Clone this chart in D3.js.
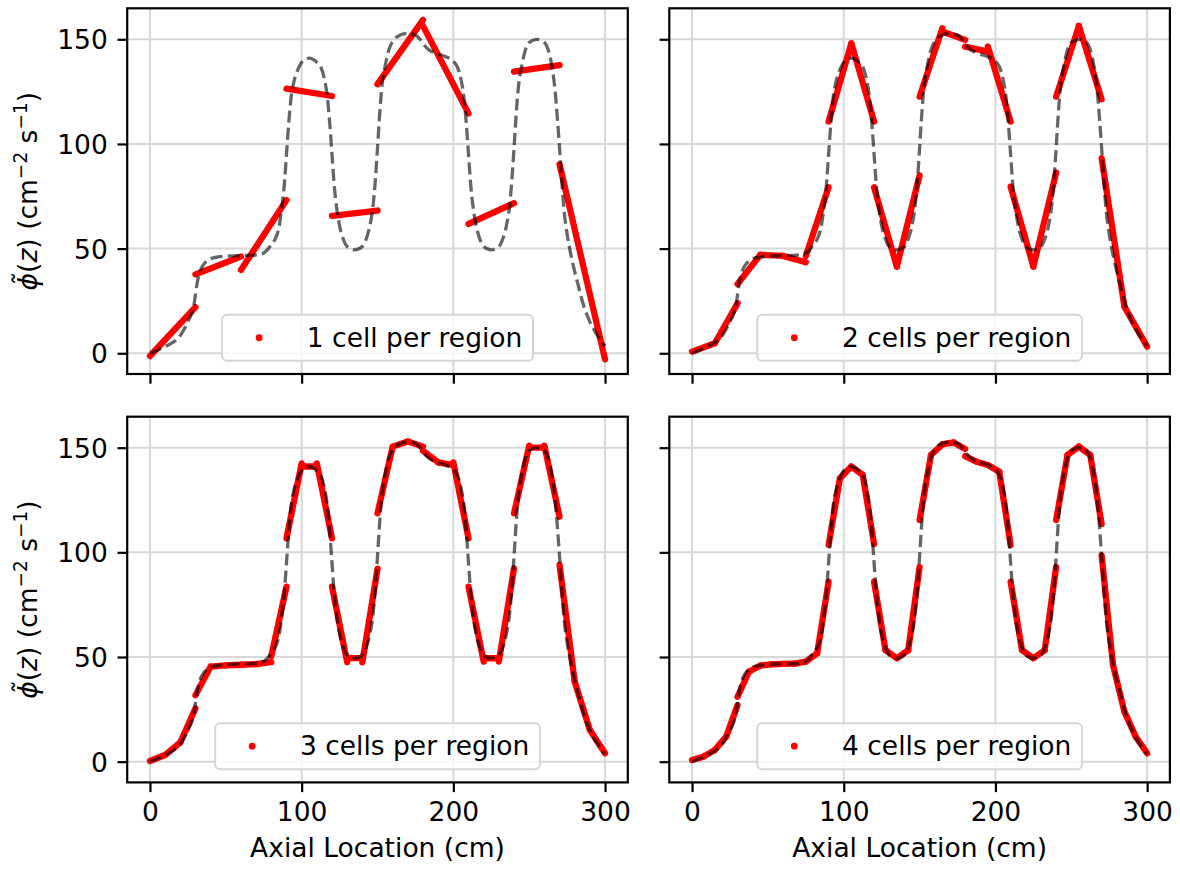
<!DOCTYPE html>
<html><head><meta charset="utf-8">
<script src="https://cdn.jsdelivr.net/npm/d3@7/dist/d3.min.js"></script>
<style>
body{margin:0;background:#fff}
svg{display:block}
text{font-family:"DejaVu Sans",sans-serif;fill:#000}
</style>
</head><body>
<svg id="chart" width="1180" height="869"></svg>
<script>
// ---------------- data ----------------
const xTicks = [0, 100, 200, 300];
const yTicks = [0, 50, 100, 150];
const legendLabels = ["1 cell per region", "2 cells per region", "3 cells per region", "4 cells per region"];
const cellsPerRegion = [1, 2, 3, 4];
const regionEdges = [0, 30, 60, 90, 120, 150, 180, 210, 240, 270, 300];

// reference (dashed) profile
const refX = [0, 5, 10, 15, 20, 22.5, 25, 27.5, 29, 30, 31, 32.5, 35, 37.5, 40, 45, 52.5, 60, 67.5, 72, 75, 77.5, 80, 82.5, 85, 87, 88.5, 90, 91.5, 93, 95, 97.5, 100, 105, 110, 112.5, 115, 117, 118.5, 120, 121.5, 123, 125, 127.5, 130, 135, 140, 142.5, 145, 147, 148.5, 150, 151.5, 153, 155, 157.5, 160, 165, 170, 175, 178, 180, 183, 187.5, 195, 200, 202.5, 205, 207, 208.5, 210, 211.5, 213, 215, 217.5, 220, 225, 230, 232.5, 235, 237, 238.5, 240, 241.5, 243, 245, 247.5, 250, 255, 260, 262.5, 265, 267, 268.5, 270, 271.5, 273, 275, 277.5, 280, 282.5, 285, 287.5, 290, 292.5, 295, 300];
const refY = [0, 1.5, 3.2, 5.2, 8.5, 11.5, 15, 19, 23, 28, 33, 38, 42, 44, 45.2, 46, 46.5, 46.7, 46.8, 47.2, 47.9, 49.5, 52, 54.5, 60, 70, 80, 95, 110, 122, 130, 135.5, 139, 141, 139, 137, 131, 122, 110, 95, 80, 70, 61, 54.5, 51, 49.4, 51, 54.5, 61, 70, 82, 98, 115, 128, 137, 145, 149, 152, 152.8, 152, 150, 148, 145.5, 143.5, 141.7, 139.5, 137, 131, 122, 110, 95, 80, 70, 61, 54.5, 51, 49.4, 51, 54.5, 61, 70, 82, 98, 115, 128, 137, 145, 148.5, 150, 148.5, 145, 137, 126, 113, 98, 82, 68, 57, 47, 39, 32, 25, 19.5, 15, 11.5, 8.5, 3.5];

// cell-wise linear solutions: value at left edge / right edge of each cell
const p1Start = [-1.3, 37.7, 39.8, 126.4, 65.6, 128.6, 156.4, 61.8, 134.5, 90.3];
const p1End   = [22.0, 46.2, 73.2, 122.9, 68.2, 159.3, 114.6, 71.7, 137.7, -2.9];

const p2Start = [0.8, 4.8, 33.1, 47.0, 46.5, 46.5, 110.7, 148.0, 79.3, 41.4, 122.6, 153.7, 146.5, 146.5, 79.6, 41.4, 122.6, 156.4, 93.2, 22.3];
const p2End   = [4.8, 23.9, 47.0, 46.5, 43.5, 79.3, 148.0, 110.7, 41.4, 85.0, 155.3, 149.7, 144.1, 110.7, 41.4, 86.3, 156.4, 121.3, 22.3, 3.2];

const p3Start = [0.3, 3.2, 9.2, 31.8, 45.4, 46.0, 46.3, 46.6, 50.5, 106.7, 141.0, 142.5, 83.6, 49.5, 47.5, 118.6, 150.5, 152.9, 148.5, 143.0, 143.0, 83.6, 49.4, 47.8, 118.6, 150.0, 151.0, 94.0, 38.2, 15.1];
const p3End   = [3.2, 9.2, 25.5, 45.4, 46.0, 46.3, 46.6, 47.5, 83.6, 142.5, 141.0, 106.7, 47.5, 49.5, 92.2, 150.5, 152.9, 150.5, 143.0, 141.7, 106.7, 47.8, 49.4, 92.4, 151.0, 150.0, 117.0, 38.2, 15.1, 4.0];

const p4Start = [0.8, 2.4, 5.6, 12.0, 31.0, 43.0, 45.9, 46.5, 46.7, 46.8, 47.8, 51.8, 103.5, 135.4, 141.0, 137.0, 86.0, 53.3, 49.4, 53.3, 115.4, 146.5, 151.6, 152.5, 146.0, 143.3, 141.7, 138.5, 86.0, 53.3, 49.4, 53.3, 115.4, 146.5, 150.5, 146.5, 98.5, 46.2, 23.9, 11.9];
const p4End   = [2.4, 5.6, 12.0, 27.0, 43.0, 45.9, 46.5, 46.7, 46.8, 47.8, 51.8, 86.0, 135.4, 141.0, 137.0, 104.0, 53.3, 49.4, 53.3, 93.0, 146.5, 151.6, 152.5, 149.4, 143.3, 141.7, 138.5, 103.5, 53.3, 49.4, 53.3, 93.0, 146.5, 150.5, 146.5, 113.5, 46.2, 23.9, 11.9, 4.0];

const panelStart = [p1Start, p2Start, p3Start, p4Start];
const panelEnd = [p1End, p2End, p3End, p4End];

// ---------------- layout ----------------
const FS = 26.5;
const W = 500.6, H = 365.7;
const lefts = [127.2, 669.3], tops = [8.3, 416.7];
const TICK = 9.7, PAD = 9.7;

const svg = d3.select("#chart");
const x = d3.scaleLinear().domain([-15, 315]).range([0, W]);
const y = d3.scaleLinear().domain([-9.9, 164.8]).range([H, 0]);

const refData = refX.map((v, i) => [v, refY[i]]);
const refLine = d3.line().x(d => x(d[0])).y(d => y(d[1])).curve(d3.curveMonotoneX);

function cellEdges(n) {
  const e = [];
  for (let r = 0; r < regionEdges.length - 1; r++) {
    const a = regionEdges[r], b = regionEdges[r + 1];
    for (let j = 0; j < n; j++) e.push([a + (b - a) * j / n, a + (b - a) * (j + 1) / n]);
  }
  return e;
}

for (let p = 0; p < 4; p++) {
  const row = p >> 1, col = p & 1;
  const g = svg.append("g").attr("transform", `translate(${lefts[col]},${tops[row]})`);

  g.append("clipPath").attr("id", "clip" + p)
    .append("rect").attr("width", W).attr("height", H);

  // grid
  const grid = g.append("g");
  grid.selectAll("line.gx").data(xTicks).enter().append("line")
    .attr("x1", d => x(d)).attr("x2", d => x(d)).attr("y1", 0).attr("y2", H)
    .attr("stroke", "#d8d8d8").attr("stroke-width", 2);
  grid.selectAll("line.gy").data(yTicks).enter().append("line")
    .attr("y1", d => y(d)).attr("y2", d => y(d)).attr("x1", 0).attr("x2", W)
    .attr("stroke", "#d8d8d8").attr("stroke-width", 2);

  const plot = g.append("g").attr("clip-path", `url(#clip${p})`);

  // red cell-wise solution
  const edges = cellEdges(cellsPerRegion[p]);
  const segs = edges.map((e, i) => ({x0: e[0], x1: e[1], y0: panelStart[p][i], y1: panelEnd[p][i]}));
  plot.selectAll("line.cell").data(segs).enter().append("line")
    .attr("x1", d => x(d.x0)).attr("x2", d => x(d.x1))
    .attr("y1", d => y(d.y0)).attr("y2", d => y(d.y1))
    .attr("stroke", "#ff0000").attr("stroke-width", 6.3).attr("stroke-linecap", "round");

  // dashed reference
  plot.append("path").datum(refData).attr("d", refLine)
    .attr("fill", "none").attr("stroke", "#000").attr("stroke-opacity", 0.6)
    .attr("stroke-width", 3.3).attr("stroke-dasharray", "12,5.2");

  // axes
  const xa = d3.axisBottom(x).tickValues(xTicks).tickSize(TICK).tickPadding(PAD)
    .tickFormat(row === 1 ? d3.format("d") : () => "");
  const ya = d3.axisLeft(y).tickValues(yTicks).tickSize(TICK).tickPadding(PAD)
    .tickFormat(col === 0 ? d3.format("d") : () => "");
  const gx = g.append("g").attr("transform", `translate(0,${H})`).call(xa);
  const gy = g.append("g").call(ya);
  [gx, gy].forEach(a => {
    a.select(".domain").remove();
    a.selectAll(".tick line").attr("stroke", "#000").attr("stroke-width", 2.2);
    a.selectAll(".tick text").attr("font-size", FS).attr("font-family", "DejaVu Sans").attr("fill", "#000");
  });
  gx.selectAll(".tick text").attr("dy", null).attr("y", TICK + PAD + 19.5);
  gy.selectAll(".tick text").attr("dy", null).attr("y", 9.6);

  // spines
  g.append("rect").attr("width", W).attr("height", H)
    .attr("fill", "none").attr("stroke", "#000").attr("stroke-width", 2.2);

  // legend
  const lg = g.append("g");
  const rect = lg.append("rect");
  const txt = lg.append("text").text(legendLabels[p]).attr("font-size", FS);
  const tw = txt.node().getComputedTextLength();
  const bp = 0.4 * FS, hl = 2 * FS, htp = 0.8 * FS;
  const lw = bp + hl + htp + tw + bp;
  const lh = 46;
  const lx = W / 2 - lw / 2, ly = H - 0.5 * FS - lh;
  rect.attr("x", lx).attr("y", ly).attr("width", lw).attr("height", lh).attr("rx", 5)
    .attr("fill", "#fff").attr("fill-opacity", 0.8).attr("stroke", "#d6d6d6").attr("stroke-width", 2);
  lg.append("circle").attr("cx", lx + bp + hl / 2).attr("cy", ly + lh / 2).attr("r", 3.4).attr("fill", "#ff0000");
  txt.attr("x", lx + bp + hl + htp).attr("y", ly + lh / 2 + 8.8);

  // axis labels
  if (row === 1) {
    g.append("text").attr("x", W / 2).attr("y", H + 75).attr("text-anchor", "middle")
      .attr("font-size", FS).text("Axial Location (cm)");
  }
  if (col === 0) {
    const t = g.append("text").attr("text-anchor", "middle").attr("font-size", FS)
      .attr("transform", `translate(${-90},${H / 2}) rotate(-90)`);
    t.append("tspan").attr("font-style", "italic").text("\u03D5\u0303");
    t.append("tspan").text("(");
    t.append("tspan").attr("font-style", "italic").text("z");
    t.append("tspan").text(") (cm");
    t.append("tspan").attr("dy", -10).attr("font-size", FS * 0.7).text("\u22122");
    t.append("tspan").attr("dy", 10).text(" s");
    t.append("tspan").attr("dy", -10).attr("font-size", FS * 0.7).text("\u22121");
    t.append("tspan").attr("dy", 10).text(")");
  }
}
</script>
</body></html>
